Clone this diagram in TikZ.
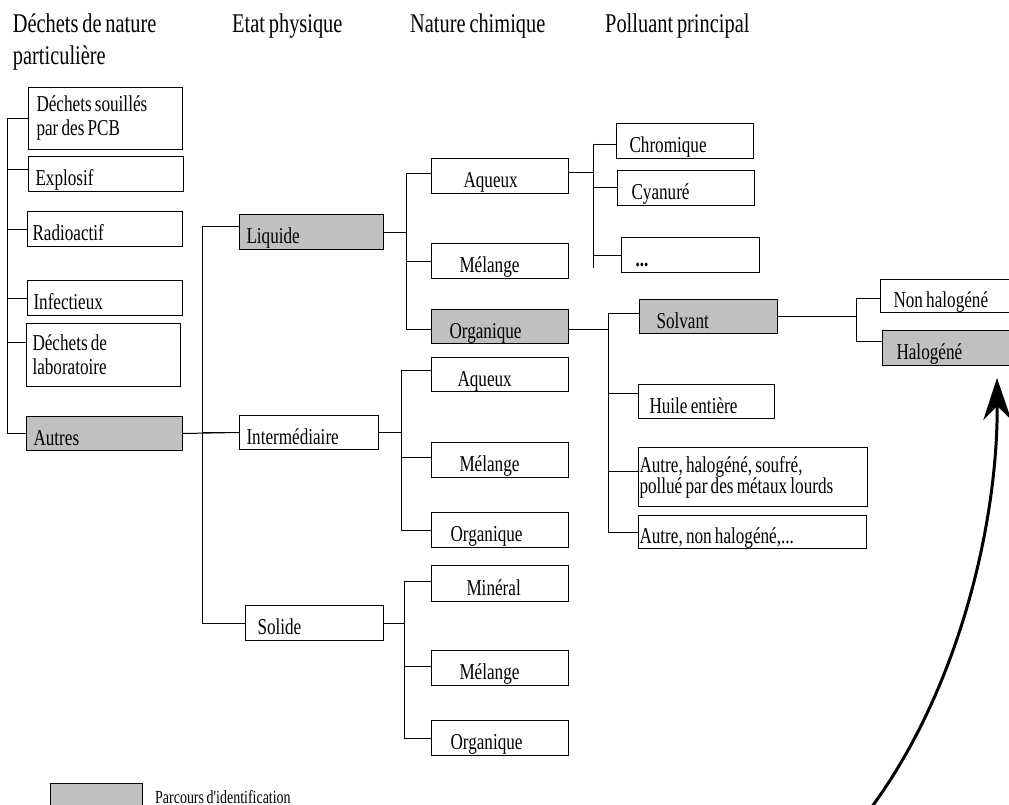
\documentclass[tikz,border=0pt]{standalone}
\usepackage{fontspec}
\setmainfont{Liberation Serif}[FakeStretch=0.755, WordSpace=0.755]
\newfontfamily\legendfont{Liberation Serif}[FakeStretch=0.755, WordSpace=0.755, Ligatures=TeXOff]
\usetikzlibrary{arrows.meta}
\definecolor{pathgray}{RGB}{192,192,192}

\begin{document}
\begin{tikzpicture}[x=1pt, y=-1pt, font=\fontsize{22.7}{24}\selectfont,
    boxbase/.style={draw, black, line width=1pt, fill=white, anchor=north west, inner ysep=0pt, align=flush left},
    box/.style={boxbase, minimum height=35pt, text height=23pt, text depth=0pt},
    chosen/.style={fill=pathgray},
    link/.style={line width=1pt},
    header/.style={anchor=base west, inner sep=0pt, align=left, font=\fontsize{27}{32}\selectfont}]

    \fill[white] (0,0) rectangle (1009,805);
    \useasboundingbox (0,0) rectangle (1009,805);
    \clip (0,0) rectangle (1009,805);

    \node[header] at (12.7,65) (H1) {D\'echets de nature\\particuli\`ere};
    \node[header] at (232,33)  (H2) {Etat physique};
    \node[header] at (410,33)  (H3) {Nature chimique};
    \node[header] at (605,33)  (H4) {Polluant principal};

    % 1. dechets de nature particuliere
    \node[boxbase, minimum height=62pt, text width=138pt, inner xsep=8pt] at (28,87) (PCB) {D\'echets souill\'es\\par des PCB};
    \node[box, text width=141pt, inner xsep=7pt] at (28,156) (Explosif) {Explosif};
    \node[box, text width=145pt, inner xsep=5pt] at (27,211) (Radioactif) {Radioactif};
    \node[box, text width=143pt, inner xsep=6pt] at (27,280) (Infectieux) {Infectieux};
    \node[boxbase, minimum height=63pt, text width=142pt, inner xsep=6pt] at (26,323) (Labo) {D\'echets de\\laboratoire};
    \node[box, chosen, minimum height=34pt, text width=142pt, inner xsep=7pt] at (26,416) (Autres) {Autres};

    % 2. etat physique
    \node[box, chosen, text width=130pt, inner xsep=7pt] at (239,214) (Liquide) {Liquide};
    \node[box, minimum height=34pt, text width=125pt, inner xsep=7pt] at (239,415) (Inter) {Interm\'ediaire};
    \node[box, text width=114pt, inner xsep=12pt] at (245,605) (Solide) {Solide};

    % 3. nature chimique
    \node[box, text width=73pt, inner xsep=32pt] at (431,158) (AqL) {Aqueux};
    \node[box, text width=81pt, inner xsep=28pt] at (431,243) (MelL) {M\'elange};
    \node[box, chosen, minimum height=34pt, text width=101pt, inner xsep=18pt] at (431,309) (OrgL) {Organique};
    \node[box, minimum height=34pt, text width=85pt, inner xsep=26pt] at (431,357) (AqI) {Aqueux};
    \node[box, text width=81pt, inner xsep=28pt] at (431,442) (MelI) {M\'elange};
    \node[box, text width=99pt, inner xsep=19pt] at (431,512) (OrgI) {Organique};
    \node[box, minimum height=36pt, text width=67pt, inner xsep=35pt] at (431,565) (Min) {Min\'eral};
    \node[box, text width=81pt, inner xsep=28pt] at (431,650) (MelS) {M\'elange};
    \node[box, text width=99pt, inner xsep=19pt] at (431,720) (OrgS) {Organique};

    % 4. polluant principal
    \node[box, text width=111pt, inner xsep=13pt] at (616,123) (Chrom) {Chromique};
    \node[box, text width=109pt, inner xsep=14pt] at (617,170) (Cyan) {Cyanur\'e};
    \node[box, text width=110pt, inner xsep=14pt] at (621,237) (Dots) {\textbf{...}};
    \node[box, chosen, minimum height=34pt, text width=104pt, inner xsep=17pt] at (639,299) (Solvant) {Solvant};
    \node[box, minimum height=34pt, text width=114pt, inner xsep=11pt] at (638,384) (Huile) {Huile enti\`ere};
    \node[boxbase, minimum height=59pt, text width=227pt, inner xsep=1pt] at (638,447) (AutreH) {Autre, halog\'en\'e, soufr\'e,\\[-3pt]pollu\'e par des m\'etaux lourds};
    \node[box, minimum height=33pt, text width=226pt, inner xsep=1pt] at (638,515) (AutreN) {Autre, non halog\'en\'e,...};
    \node[box, minimum height=33pt, text width=124pt, inner xsep=13pt] at (880,279) (NonH) {Non halog\'en\'e};
    \node[box, chosen, text width=122pt, inner xsep=14pt] at (882,330) (Hal) {Halog\'en\'e};

    % legende
    \node[draw, black, line width=1pt, chosen, anchor=north west, minimum width=92pt, minimum height=35pt] at (50,783) (Key) {};
    \node[anchor=base west, inner sep=0pt, font=\legendfont\fontsize{18.5}{20}\selectfont] at (155,803) (KeyText) {Parcours d'identification};

    % liaisons
    \coordinate (bus1) at (7,118);
    \coordinate (bus2) at (202,226);
    \coordinate (bus3) at (406,173);
    \coordinate (bus4) at (401,370);
    \coordinate (bus5) at (404,581);
    \coordinate (bus6) at (593,144);
    \coordinate (bus6end) at (593,268);
    \coordinate (bus7) at (608,313);
    \coordinate (bus8) at (856,298);

    \draw[link] (PCB.west) -| (bus1);
    \draw[link] ([yshift=4.5pt]Explosif.west) -| (bus1);
    \draw[link] (Radioactif.west) -| (bus1);
    \draw[link] (Infectieux.west) -| (bus1);
    \draw[link] ([yshift=12.5pt]Labo.west) -| (bus1);
    \draw[link] (Autres.west) -| (bus1);

    \draw[link] (Autres.east) -- (Inter.west);
    \draw[link] ([yshift=5.5pt]Liquide.west) -| (bus2);
    \draw[link] (Inter.west) -| (bus2);
    \draw[link] (Solide.west) -| (bus2);

    \draw[link] (Liquide.east) -- (Liquide.east -| bus3);
    \draw[link] ([yshift=2.5pt]AqL.west) -| (bus3);
    \draw[link] (MelL.west) -| (bus3);
    \draw[link] ([yshift=-3pt]OrgL.west) -| (bus3);

    \draw[link] (Inter.east) -- (Inter.east -| bus4);
    \draw[link] ([yshift=4pt]AqI.west) -| (bus4);
    \draw[link] ([yshift=2.5pt]MelI.west) -| (bus4);
    \draw[link] (OrgI.west) -| (bus4);

    \draw[link] (Solide.east) -- (Solide.east -| bus5);
    \draw[link] ([yshift=2pt]Min.west) -| (bus5);
    \draw[link] ([yshift=1.5pt]MelS.west) -| (bus5);
    \draw[link] (OrgS.west) -| (bus5);

    \draw[link] ([yshift=3pt]AqL.east) -- ([yshift=3pt]AqL.east -| bus6);
    \draw[link] ([yshift=-3.5pt]Chrom.west) -| (bus6);
    \draw[link] (Cyan.west) -| (bus6);
    \draw[link] (Dots.west) -| (bus6);
    \draw[link] (bus6) -- (bus6end);

    \draw[link] ([yshift=-3pt]OrgL.east) -- ([yshift=-3pt]OrgL.east -| bus7);
    \draw[link] ([yshift=3pt]Solvant.west) -| (bus7);
    \draw[link] ([yshift=8pt]Huile.west) -| (bus7);
    \draw[link] ([yshift=5.5pt]AutreH.west) -| (bus7);
    \draw[link] (AutreN.west) -| (bus7);

    \draw[link] (Solvant.east) -- (Solvant.east -| bus8);
    \draw[link] ([yshift=-2.5pt]NonH.west) -| (bus8);
    \draw[link] ([yshift=6.5pt]Hal.west) -| (bus8);

    % fleche du parcours
    \coordinate (arrowfoot) at (868,812);
    \coordinate (arrowtip) at (997,378);
    \draw[line width=3pt, -{Stealth[length=42pt, width=28pt, inset=14pt]}] (arrowfoot) .. controls (960,690) and (998,520) .. (arrowtip);

\end{tikzpicture}
\end{document}
